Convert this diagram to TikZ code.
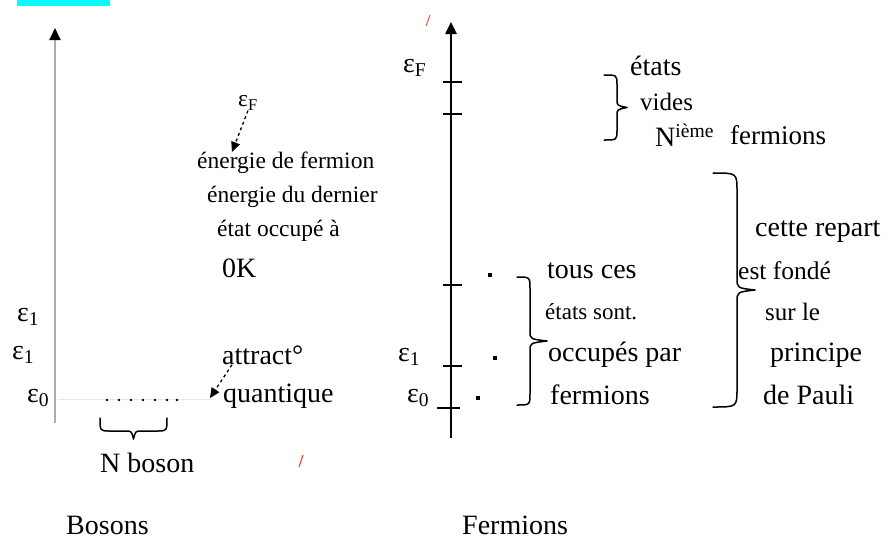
\documentclass[tikz,border=0pt]{standalone}
\usepackage{fontspec}
\setmainfont{Liberation Serif}
\usetikzlibrary{arrows.meta}
\definecolor{topcyan}{RGB}{0,255,255}
% vertical brace, tip to the right: x0, ytop, ybottom, w, t, r, r2
\newcommand\mybracev[7]{%
  \pgfmathsetmacro\bym{(#2+#3)/2}%
  \draw[brline] (#1,#2) .. controls (#1+#4,#2) .. (#1+#4,#2+#6)
    -- (#1+#4,\bym-#7) .. controls (#1+#4,\bym-2) .. (#1+#4+#5,\bym)
    .. controls (#1+#4,\bym+2) .. (#1+#4,\bym+#7)
    -- (#1+#4,#3-#6) .. controls (#1+#4,#3) .. (#1,#3);%
}
% horizontal brace, tip downward: xleft, xright, y0, w, t, r, r2
\newcommand\mybraceh[7]{%
  \pgfmathsetmacro\bxm{(#1+#2)/2}%
  \draw[brline] (#1,#3) .. controls (#1,#3+#4) .. (#1+#6,#3+#4)
    -- (\bxm-#7,#3+#4) .. controls (\bxm-2,#3+#4) .. (\bxm,#3+#4+#5)
    .. controls (\bxm+2,#3+#4) .. (\bxm+#7,#3+#4)
    -- (#2-#6,#3+#4) .. controls (#2,#3+#4) .. (#2,#3);%
}
\begin{document}
\begin{tikzpicture}[x=1pt,y=-1pt,
  txt/.style={font=\fontsize{28}{32}\selectfont, inner sep=0pt, anchor=west},
  stxt/.style={font=\fontsize{23.5}{28}\selectfont, inner sep=0pt, anchor=west},
  brline/.style={line width=1.5pt, line cap=round, line join=round},
  tickmark/.style={line width=2.2pt},
  darr/.style={dashed, line width=1.3pt, -{Triangle[length=10pt,width=9pt]}},
  fdot/.style={fill=black, inner sep=1.6pt, minimum size=0pt}
]
\useasboundingbox (0,0) rectangle (891,542);
\fill[topcyan] (17,0) rectangle (110,6);

% ---------- Bosons ----------
\coordinate (lb) at (55,423);
\coordinate (lt) at (55,28);
\draw[gray!65, line width=2pt, -{Triangle[color=black,length=12pt,width=11pt]}] (lb) -- (lt);
\node[txt] (be1a) at (17,317) {ε\textsubscript{1}};
\node[txt] (be1b) at (12,355) {ε\textsubscript{1}};
\node[txt] (be0) at (27,398) {ε\textsubscript{0}};
\coordinate (bl0) at (58,399);
\coordinate (bl1) at (212,399);
\draw[gray!18, line width=1pt] (bl0) -- (bl1);
\foreach \x in {107,119,131,143,155,167,177} \fill (\x,400) circle (1.3pt);
\mybraceh{100}{167}{418}{13}{8}{10}{8}
\node[txt] (nboson) at (100,463) {N boson};
\node[txt] (bosons) at (66,525) {Bosons};

\node[stxt] (epsFL) at (238,103) {ε\textsubscript{F}};
\node[stxt] (ener1) at (197,163) {énergie de fermion};
\node[stxt] (ener2) at (207,197) {énergie du dernier};
\node[stxt] (ener3) at (217,231) {état occupé à};
\node[txt] (zeroK) at (222,268) {0K};
\coordinate (a1) at (232,152);
\draw[darr] (epsFL.south) -- (a1);

\node[txt] (attr) at (222,355) {attract°};
\node[txt] (quant) at (223,396) {quantique};
\coordinate (a2) at (210,398);
\draw[darr] ([xshift=10pt]attr.south west) -- (a2);

% red marks
\coordinate (r1) at (303,455);
\coordinate (r2) at (299,467);
\draw[red!80, line width=1pt] (r1) -- (r2);
\coordinate (r3) at (430,15);
\coordinate (r4) at (426,26);
\draw[red!70, line width=1pt] (r3) -- (r4);

% ---------- Fermions ----------
\coordinate (rb) at (451,438);
\coordinate (rt) at (451,22);
\draw[line width=2.5pt, -{Triangle[length=12pt,width=11pt]}] (rb) -- (rt);
\foreach \y/\n in {82/t1,114/t2,285/t3,366/t4} {
  \coordinate (\n a) at (443,\y);
  \coordinate (\n b) at (462,\y);
  \draw[tickmark] (\n a) -- (\n b);
}
\coordinate (t5a) at (437,408);
\coordinate (t5b) at (460,408);
\draw[tickmark] (t5a) -- (t5b);

\node[txt] (feF) at (403,68) {ε\textsubscript{F}};
\node[txt] (fe1) at (398,357) {ε\textsubscript{1}};
\node[txt] (fe0) at (407,398) {ε\textsubscript{0}};

\node[fdot] (d1) at (490,275) {};
\node[fdot] (d2) at (495,358) {};
\node[fdot] (d3) at (478,398) {};

\mybracev{517}{277}{405}{13}{17}{12}{10}
\node[txt] (tous) at (547,271) {tous ces};
\node[txt, font=\fontsize{23}{28}\selectfont] (sont) at (545,312) {états sont.};
\node[txt] (occ) at (548,355) {occupés par};
\node[txt] (ferm1) at (550,395) {fermions};

\mybracev{604}{75}{140}{13}{10}{10}{8}
\node[txt] (etats) at (630,66) {états};
\node[txt, font=\fontsize{25}{30}\selectfont] (vides) at (640,102) {vides};
\node[txt] (nieme) at (655,135) {N\textsuperscript{ième}};
\node[txt, font=\fontsize{27}{30}\selectfont] (ferm2) at (730,135) {fermions};

\mybracev{713}{173}{407}{24}{18}{18}{12}
\node[txt] (cette) at (755,232) {cette repart};
\node[txt, font=\fontsize{25.5}{30}\selectfont] (fonde) at (738,271) {est fondé};
\node[txt, font=\fontsize{25}{30}\selectfont] (surle) at (765,312) {sur le};
\node[txt] (princ) at (770,355) {principe};
\node[txt] (pauli) at (763,395) {de Pauli};

\node[txt] (fermions) at (462,525) {Fermions};
\end{tikzpicture}
\end{document}
